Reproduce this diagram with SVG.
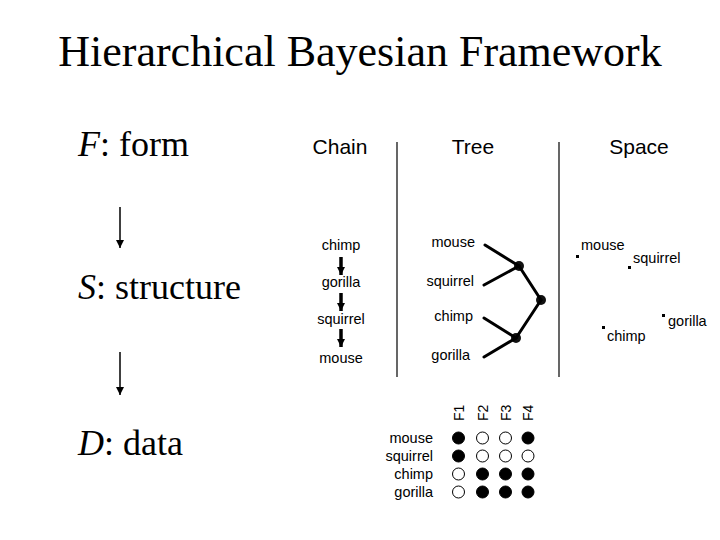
<svg xmlns="http://www.w3.org/2000/svg" width="720" height="540" viewBox="0 0 720 540">
<defs>
<marker id="thin" viewBox="0 0 10 10" refX="10" refY="5" markerWidth="8" markerHeight="8" markerUnits="userSpaceOnUse" orient="auto"><path d="M0,0 L10,5 L0,10 Z" fill="#000"/></marker>
<marker id="thick" viewBox="0 0 10 10" refX="10" refY="5" markerWidth="8" markerHeight="10" markerUnits="userSpaceOnUse" orient="auto"><path d="M0,0 L10,5 L0,10 Z" fill="#000"/></marker>
</defs>
<style>
.serif{font-family:"Liberation Serif","Times New Roman",serif;fill:#000}
.sans{font-family:"Liberation Sans",Arial,sans-serif;fill:#000}
.hdr{font-size:21px;text-anchor:middle}
.lbl{font-size:14.5px}
.end{text-anchor:end}
.full{fill:#000;stroke:#000;stroke-width:1}
.open{fill:#fff;stroke:#000;stroke-width:1}
.edge{stroke:#000;stroke-width:3;fill:none;stroke-linecap:round}
.dot{fill:#000}
</style>
<rect width="720" height="540" fill="#fff"/>
<g id="title"><text class="serif" x="360" y="66" font-size="44" text-anchor="middle">Hierarchical Bayesian Framework</text></g>
<g id="form"><text class="serif" x="78" y="156" font-size="36"><tspan font-style="italic">F</tspan>: form</text></g>
<g id="structure"><text class="serif" x="78" y="299" font-size="36"><tspan font-style="italic">S</tspan>: structure</text></g>
<g id="data"><text class="serif" x="78" y="455" font-size="36"><tspan font-style="italic">D</tspan>: data</text></g>
<g id="headers">
<text class="sans hdr" x="340" y="154">Chain</text>
<text class="sans hdr" x="473" y="154">Tree</text>
<text class="sans hdr" x="639" y="154">Space</text>
</g>
<g id="dividers" stroke="#000" stroke-width="1.2">
<line x1="397" y1="142" x2="397" y2="377"/>
<line x1="559" y1="142" x2="559" y2="377"/>
</g>
<g id="chain">
<text class="sans lbl" x="341" y="250" text-anchor="middle">chimp</text>
<text class="sans lbl" x="341" y="287" text-anchor="middle">gorilla</text>
<text class="sans lbl" x="341" y="324" text-anchor="middle">squirrel</text>
<text class="sans lbl" x="341" y="363" text-anchor="middle">mouse</text>
</g>
<g id="tree">
<text class="sans lbl end" x="475" y="247">mouse</text>
<text class="sans lbl end" x="474" y="286">squirrel</text>
<text class="sans lbl end" x="473" y="321">chimp</text>
<text class="sans lbl end" x="470" y="360">gorilla</text>
<circle cx="519" cy="266" r="5" fill="#111"/>
<circle cx="541" cy="300" r="5" fill="#111"/>
<circle cx="516" cy="338" r="5" fill="#111"/>
</g>
<g id="space">
<rect class="dot" x="576" y="255" width="3" height="3"/>
<text class="sans lbl" x="581" y="250">mouse</text>
<rect class="dot" x="628" y="266" width="3" height="3"/>
<text class="sans lbl" x="633" y="263">squirrel</text>
<rect class="dot" x="602" y="326" width="3" height="3"/>
<text class="sans lbl" x="607" y="341">chimp</text>
<rect class="dot" x="662" y="314" width="3" height="3"/>
<text class="sans lbl" x="668" y="326">gorilla</text>
</g>
<g id="matrix">
<text class="sans lbl end" x="433" y="443">mouse</text>
<text class="sans lbl end" x="433" y="461">squirrel</text>
<text class="sans lbl end" x="433" y="479">chimp</text>
<text class="sans lbl end" x="433" y="497">gorilla</text>
<text class="sans" font-size="14" transform="translate(464,421) rotate(-90)">F1</text>
<text class="sans" font-size="14" transform="translate(488,421) rotate(-90)">F2</text>
<text class="sans" font-size="14" transform="translate(511,421) rotate(-90)">F3</text>
<text class="sans" font-size="14" transform="translate(533,421) rotate(-90)">F4</text>
<circle class="full" cx="458.5" cy="438" r="6"/><circle class="open" cx="482.5" cy="438" r="6"/><circle class="open" cx="505.5" cy="438" r="6"/><circle class="full" cx="528" cy="438" r="6"/>
<circle class="full" cx="458.5" cy="456" r="6"/><circle class="open" cx="482.5" cy="456" r="6"/><circle class="open" cx="505.5" cy="456" r="6"/><circle class="open" cx="528" cy="456" r="6"/>
<circle class="open" cx="458.5" cy="474" r="6"/><circle class="full" cx="482.5" cy="474" r="6"/><circle class="full" cx="505.5" cy="474" r="6"/><circle class="full" cx="528" cy="474" r="6"/>
<circle class="open" cx="458.5" cy="492" r="6"/><circle class="full" cx="482.5" cy="492" r="6"/><circle class="full" cx="505.5" cy="492" r="6"/><circle class="full" cx="528" cy="492" r="6"/>
</g>
<g id="connectors">
<line x1="120" y1="207" x2="120" y2="248" stroke="#000" stroke-width="1.5" marker-end="url(#thin)"/>
<line x1="120" y1="352" x2="120" y2="395" stroke="#000" stroke-width="1.5" marker-end="url(#thin)"/>
<line x1="341" y1="257" x2="341" y2="275" stroke="#000" stroke-width="3.5" marker-end="url(#thick)"/>
<line x1="341" y1="293" x2="341" y2="311" stroke="#000" stroke-width="3.5" marker-end="url(#thick)"/>
<line x1="341" y1="329" x2="341" y2="347" stroke="#000" stroke-width="3.5" marker-end="url(#thick)"/>
<line class="edge" x1="485" y1="245" x2="519" y2="266"/>
<line class="edge" x1="484" y1="285" x2="519" y2="266"/>
<line class="edge" x1="484" y1="318" x2="516" y2="338"/>
<line class="edge" x1="484" y1="357" x2="516" y2="338"/>
<line class="edge" x1="519" y1="266" x2="541" y2="300"/>
<line class="edge" x1="541" y1="300" x2="516" y2="338"/>
</g>
</svg>
